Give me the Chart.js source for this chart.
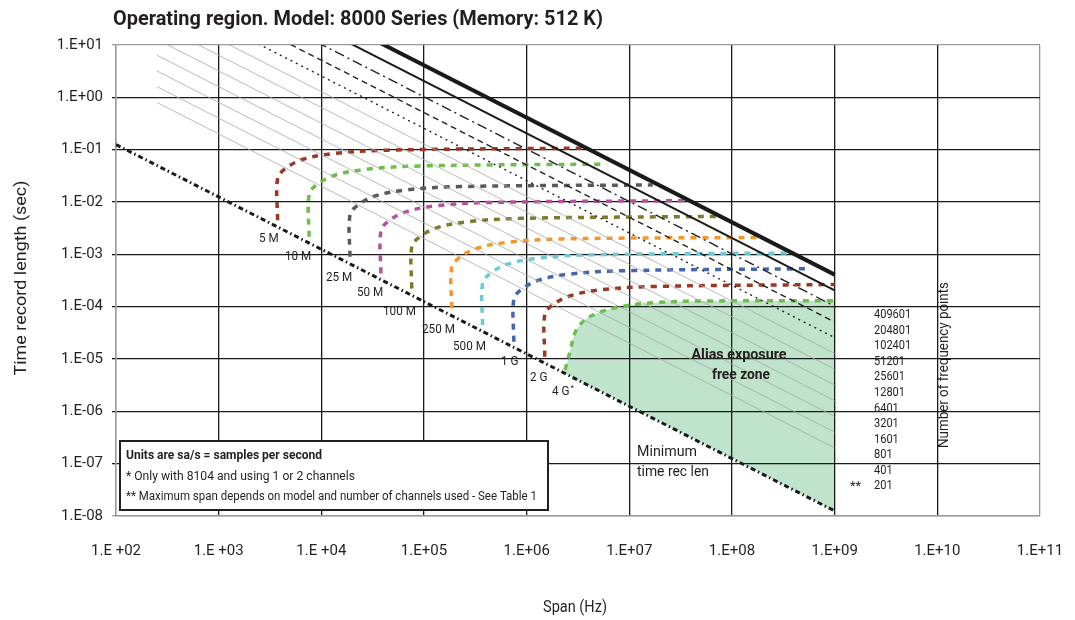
<!DOCTYPE html>
<html>
<head>
<meta charset="utf-8">
<script src="https://cdn.jsdelivr.net/npm/chart.js@4"></script>
<style>
  html, body { margin: 0; padding: 0; background: #fff; }
  #wrap { width: 1075px; height: 620px; }
</style>
</head>
<body>
<div id="wrap"><canvas id="chart" width="1075" height="620"></canvas></div>
<script>
// 軸の目盛り
const xTickValues = [1e2, 1e3, 1e4, 1e5, 1e6, 1e7, 1e8, 1e9, 1e10, 1e11];
const xTickLabels = ['1.E +02', '1.E +03', '1.E +04', '1.E+05', '1.E+06', '1.E+07', '1.E+08', '1.E+09', '1.E+10', '1.E+11'];
const yTickValues = [1e-8, 1e-7, 1e-6, 1e-5, 1e-4, 1e-3, 1e-2, 1e-1, 1e0, 1e1];
const yTickLabels = ['1.E-08', '1.E-07', '1.E-06', '1.E-05', '1.E-04', '1.E-03', '1.E-02', '1.E-01', '1.E+00', '1.E+01'];

// 周波数ポイント数の斜線（始点 250 Hz、終点 1 GHz）
const pointCounts = ['409601', '204801', '102401', '51201', '25601', '12801', '6401', '3201', '1601', '801', '401', '201'];
const freqLineSpan = [250, 1e9];
const freqLineStartT = [1638, 819, 410, 205, 102, 51.2, 25.6, 12.8, 6.4, 3.2, 1.6, 0.8];
const freqLineEndT = [4.1e-4, 2.05e-4, 1.02e-4, 5.1e-5, 2.56e-5, 1.28e-5, 6.4e-6, 3.2e-6, 1.6e-6, 8.0e-7, 4.0e-7, 2.0e-7];

// 最小時間記録長
const minTimeSpan = [1e2, 1e9];
const minTimeT = [0.125, 1.25e-8];

// サンプリングレートごとの曲線 [span, time]
const rateNames = ['5 M', '10 M', '25 M', '50 M', '100 M', '250 M', '500 M', '1 G', '2 G', '4 G'];
const c5M = [[3750, 0.0045], [3750, 0.028], [4480, 0.0436], [6570, 0.065], [12900, 0.084], [44000, 0.098], [3.94e6, 0.107]];
const c10M = [[7600, 0.00216], [7600, 0.0139], [9090, 0.0216], [13300, 0.0321], [26100, 0.0418], [89700, 0.0487], [6.04e6, 0.053]];
const c25M = [[19000, 0.000895], [19000, 0.0056], [22700, 0.0087], [33300, 0.013], [65200, 0.0169], [224000, 0.0197], [1.69e7, 0.0212]];
const c50M = [[38000, 0.000432], [38000, 0.0028], [45400, 0.00436], [66500, 0.00648], [130000, 0.00843], [448000, 0.0098], [3.72e7, 0.0106]];
const c100M = [[76000, 0.000223], [76000, 0.00139], [90900, 0.00216], [133000, 0.00321], [261000, 0.00418], [897000, 0.00487], [7.1e7, 0.0053]];
const c250M = [[186000, 9.3e-5], [186000, 0.00056], [222000, 0.00087], [326000, 0.0013], [638000, 0.00169], [2.19e6, 0.00197], [1.95e8, 0.0021]];
const c500M = [[372000, 4.46e-5], [372000, 0.00028], [445000, 0.000436], [651000, 0.000648], [1.28e6, 0.000843], [4.39e6, 0.00098], [3.82e8, 0.00106]];
const c1G = [[750000, 2.14e-5], [750000, 0.000139], [897000, 0.000216], [1.31e6, 0.000321], [2.57e6, 0.000418], [8.85e6, 0.000487], [5.47e8, 0.00053]];
const c2G = [[1.5e6, 1.11e-5], [1.5e6, 7.0e-5], [1.79e6, 0.000108], [2.63e6, 0.00016], [5.15e6, 0.000209], [1.77e7, 0.000243], [1e9, 0.000265]];
const c4G = [[2.36e6, 6.17e-6], [2.64e6, 1.38e-5], [2.95e6, 3.13e-5], [3.52e6, 5.15e-5], [4.8e6, 7.45e-5], [8.07e6, 9.95e-5], [1.69e7, 0.000119], [4.86e7, 0.000128], [1e9, 0.00013]];

const rateCurves = [c5M, c10M, c25M, c50M, c100M, c250M, c500M, c1G, c2G, c4G];
const rateColors = ['#9b3823', '#6cbf4a', '#595959', '#b5519f', '#7d7a2c', '#f5962a', '#6ccad6', '#4565ad', '#9b3823', '#6cbf4a'];

const FONT = 'Roboto, "Liberation Sans", sans-serif';
const TEXT = '#231f20';
Chart.defaults.font.family = FONT;

// 斜線のスタイル
function freqStyle(i) {
    if (i === 0) return { color: '#1a1a1a', width: 4, dash: [] };
    if (i === 1) return { color: '#1a1a1a', width: 2, dash: [] };
    if (i === 2) return { color: '#222', width: 1.4, dash: [10, 4, 2, 4] };
    if (i === 3) return { color: '#222', width: 1.4, dash: [6, 4] };
    if (i === 4) return { color: '#222', width: 1.4, dash: [2, 4] };
    return { color: '#a8a8a8', width: 0.8, dash: [] };
}

const datasets = [];

pointCounts.forEach((n, i) => {
    const st = freqStyle(i);
    datasets.push({
        label: n,
        data: [{ x: freqLineSpan[0], y: freqLineStartT[i] }, { x: freqLineSpan[1], y: freqLineEndT[i] }],
        borderColor: st.color,
        borderWidth: st.width,
        borderDash: st.dash,
        showLine: true,
        pointRadius: 0,
        fill: false
    });
});

const minIndex = datasets.length;
datasets.push({
    label: 'Minimum time rec len',
    data: minTimeSpan.map((x, i) => ({ x: x, y: minTimeT[i] })),
    borderColor: '#1a1a1a',
    borderWidth: 3,
    borderDash: [5, 3, 1.5, 3],
    showLine: true,
    pointRadius: 0,
    fill: false
});

rateCurves.forEach((curve, i) => {
    const isLast = i === rateCurves.length - 1;
    datasets.push({
        label: rateNames[i],
        data: curve.map(p => ({ x: p[0], y: p[1] })),
        borderColor: rateColors[i],
        borderWidth: 3.5,
        borderDash: [6, 6],
        showLine: true,
        pointRadius: 0,
        tension: 0.35,
        backgroundColor: '#bfe3cb',
        fill: isLast ? minIndex : false
    });
});

// 幅を合わせてテキストを描く
function fitText(ctx, text, x, y, width, align) {
    const w = ctx.measureText(text).width;
    const k = Math.max(0.6, Math.min(1.25, width / w));
    ctx.save();
    ctx.translate(x, y);
    ctx.scale(k, 1);
    ctx.textAlign = align;
    ctx.fillText(text, 0, 0);
    ctx.restore();
}

// テキスト類の描画
const annotPlugin = {
    id: 'annot',
    afterDraw(chart) {
        const ctx = chart.ctx;
        ctx.save();
        ctx.fillStyle = TEXT;
        ctx.textBaseline = 'middle';

        // タイトル
        ctx.font = 'bold 20px ' + FONT;
        fitText(ctx, 'Operating region. Model: 8000 Series (Memory: 512 K)', 113, 20, 490, 'left');

        // 軸タイトル
        ctx.font = '16px ' + FONT;
        fitText(ctx, 'Span (Hz)', 575, 608, 64, 'center');
        ctx.save();
        ctx.translate(22, 278);
        ctx.rotate(-Math.PI / 2);
        fitText(ctx, 'Time record length (sec)', 0, 0, 195, 'center');
        ctx.restore();

        // サンプリングレートのラベル
        const rateLabelPos = [[259, 239], [285, 257], [326, 278], [357, 293], [383, 312], [422, 330], [453, 347], [501, 362], [530, 378], [552, 392]];
        ctx.font = '13px ' + FONT;
        ctx.textAlign = 'left';
        rateNames.forEach((name, i) => {
            fitText(ctx, name, rateLabelPos[i][0], rateLabelPos[i][1], ctx.measureText(name).width * 0.9, 'left');
        });
        const w4 = ctx.measureText(rateNames[9]).width * 0.9;
        ctx.font = '8px ' + FONT;
        ctx.fillText('*', rateLabelPos[9][0] + w4 + 1, rateLabelPos[9][1] - 4);

        // エイリアスフリーゾーン
        ctx.font = 'bold 15px ' + FONT;
        fitText(ctx, 'Alias exposure', 739, 355, 95, 'center');
        fitText(ctx, 'free zone', 741, 375, 58, 'center');

        ctx.font = '15px ' + FONT;
        fitText(ctx, 'Minimum', 637, 452, 60, 'left');
        fitText(ctx, 'time rec len', 637, 472, 72, 'left');

        // 周波数ポイント数
        ctx.font = '13px ' + FONT;
        pointCounts.forEach((n, i) => {
            fitText(ctx, n, 874, 315 + i * 15.55, n.length * 6.2, 'left');
        });
        ctx.textAlign = 'left';
        ctx.fillText('**', 850, 487);

        ctx.font = '15px ' + FONT;
        ctx.save();
        ctx.translate(944, 365);
        ctx.rotate(-Math.PI / 2);
        fitText(ctx, 'Number of frequency points', 0, 0, 166, 'center');
        ctx.restore();

        // 注記ボックス
        ctx.fillStyle = '#fff';
        ctx.fillRect(120, 441, 428, 69);
        ctx.lineWidth = 2;
        ctx.strokeStyle = TEXT;
        ctx.strokeRect(120, 441, 428, 69);
        ctx.fillStyle = TEXT;
        ctx.font = 'bold 12px ' + FONT;
        fitText(ctx, 'Units are sa/s = samples per second', 126, 456, 196, 'left');
        ctx.font = '12px ' + FONT;
        fitText(ctx, '* Only with 8104 and using 1 or 2 channels', 126, 477, 229, 'left');
        fitText(ctx, '** Maximum span depends on model and number of channels used - See Table 1', 126, 497, 411, 'left');

        ctx.restore();
    }
};

const gridColor = (ctx) => {
    const last = ctx.scale.ticks.length - 1;
    return (ctx.index === 0 || ctx.index === last) ? '#9a9a9a' : '#1a1a1a';
};

new Chart(document.getElementById('chart'), {
    type: 'scatter',
    data: { datasets: datasets },
    options: {
        responsive: false,
        animation: false,
        layout: { padding: { top: 45, right: 35, left: 0, bottom: 0 } },
        plugins: {
            legend: { display: false },
            tooltip: { enabled: false },
            filler: { drawTime: 'beforeDraw' }
        },
        scales: {
            x: {
                type: 'logarithmic',
                min: 1e2,
                max: 1e11,
                afterBuildTicks: (s) => { s.ticks = xTickValues.map(v => ({ value: v })); },
                afterFit: (s) => { s.height = 104; s.paddingLeft = 0; s.paddingRight = 0; },
                ticks: {
                    autoSkip: false,
                    maxRotation: 0,
                    padding: 26,
                    color: TEXT,
                    font: { size: 15 },
                    callback: (v, i) => xTickLabels[i]
                },
                grid: { color: gridColor, lineWidth: 1.3, drawTicks: false },
                border: { color: '#9a9a9a', width: 1.5 }
            },
            y: {
                type: 'logarithmic',
                min: 1e-8,
                max: 1e1,
                afterBuildTicks: (s) => { s.ticks = yTickValues.map(v => ({ value: v })); },
                afterFit: (s) => { s.width = 116; s.paddingTop = 0; s.paddingBottom = 0; },
                ticks: {
                    autoSkip: false,
                    padding: 9,
                    color: TEXT,
                    font: { size: 15 },
                    callback: (v, i) => yTickLabels[i]
                },
                grid: { color: gridColor, lineWidth: 1.3, tickLength: 4 },
                border: { color: '#9a9a9a', width: 1.5 }
            }
        }
    },
    plugins: [annotPlugin]
});
</script>
</body>
</html>
